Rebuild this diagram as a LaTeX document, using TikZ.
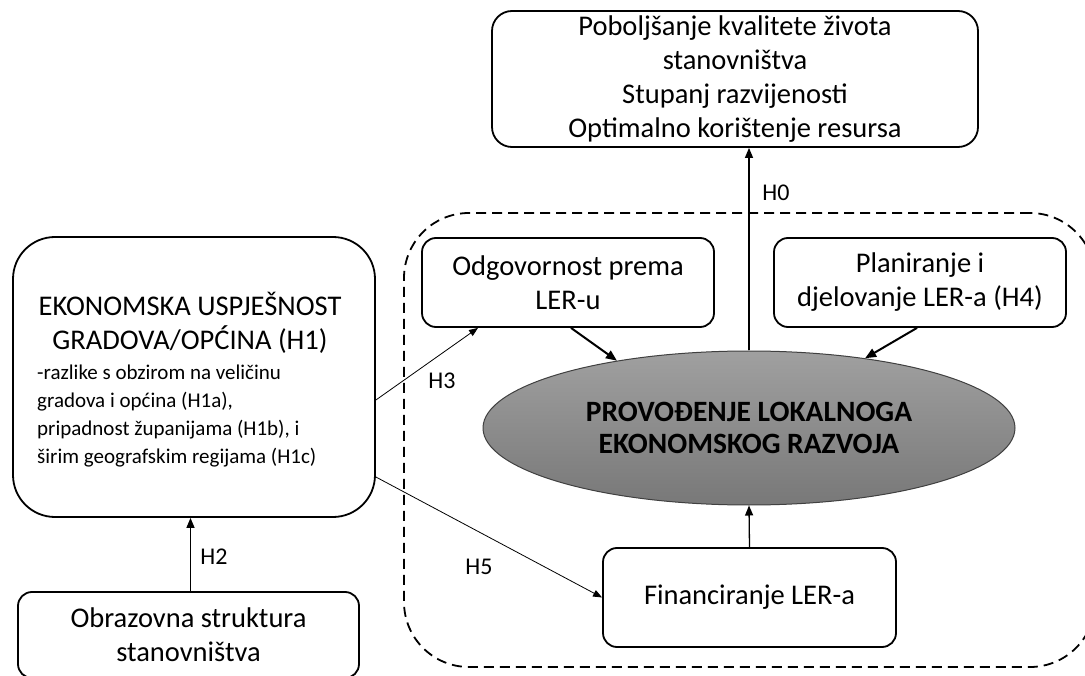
\documentclass[tikz,border=0pt]{standalone}
\usepackage{fontspec}
\setmainfont{Carlito}
\usetikzlibrary{shapes.geometric,arrows.meta}
\definecolor{elltop}{HTML}{A0A0A0}
\definecolor{ellbot}{HTML}{787878}
\tikzset{
  box/.style={draw, line width=1.8pt, rounded corners=14pt, align=center, inner sep=0pt},
  big/.style={font=\fontsize{28.5}{34}\selectfont},
  small/.style={font=\fontsize{21}{28}\selectfont},
  region/.style={draw, line width=1.8pt, dash pattern=on 10pt off 6pt, rounded corners=65pt, inner sep=0pt},
  arr/.style={-{Triangle[length=10pt,width=8pt]}, line width=1.3pt},
  arrthick/.style={-{Triangle[length=11pt,width=9pt]}, line width=2pt},
  arrthin/.style={-{Triangle[length=9pt,width=7pt]}, line width=0.8pt},
  hlbl/.style={font=\fontsize{24}{28}\selectfont, inner sep=0pt},
}
\begin{document}
\begin{tikzpicture}[x=1pt,y=-1pt]
\useasboundingbox (0,0) rectangle (1085,676);
\clip (0,0) rectangle (1085,676);
\fill[white] (0,0) rectangle (1085,676);
% dashed region
\node[region, minimum width=691pt, minimum height=454pt] (reg) at (749.5,440) {};
% boxes
\node[box, big, rounded corners=20pt, minimum width=486pt, minimum height=136pt] (res) at (735,79)
  {Poboljšanje kvalitete života\\stanovništva\\Stupanj razvijenosti\\Optimalno korištenje resursa};
\node[box, big, minimum width=292pt, minimum height=89pt] (odg) at (568,282.5)
  {Odgovornost prema\\LER-u};
\node[box, big, minimum width=292pt, minimum height=89pt] (plan) at (920,282.5)
  {Planiranje i\\djelovanje LER-a (H4)};
\node[ellipse, draw=black!75, line width=1pt, top color=elltop, bottom color=ellbot,
  minimum width=532pt, minimum height=154pt, inner sep=0pt, align=center,
  font=\fontsize{29.5}{32.5}\selectfont\bfseries] (ell) at (749,428)
  {PROVOĐENJE LOKALNOGA\\EKONOMSKOG RAZVOJA};
\node[box, big, minimum width=293pt, minimum height=99pt] (fin) at (749.5,597.5)
  {Financiranje LER-a};
\node[box, rounded corners=42pt, minimum width=362pt, minimum height=280pt] (eko) at (194,377) {};
\node[big, align=center, inner sep=0pt] (ekot) at (190,323)
  {EKONOMSKA USPJEŠNOST\\GRADOVA/OPĆINA (H1)};
\node[small, align=left, inner sep=0pt, anchor=west] (ekob) at (37,416)
  {-razlike s obzirom na veličinu\\gradova i općina (H1a),\\pripadnost županijama (H1b), i\\širim geografskim regijama (H1c)};
\node[box, big, minimum width=341pt, minimum height=86pt] (obr) at (188.5,635)
  {Obrazovna struktura\\stanovništva};
% connectors
\draw[arr] (ell.north) -- (ell.north |- res.south);
\draw[arrthick] ([xshift=3pt]odg.south) -- (ell.153);
\draw[arrthick] ([xshift=-3pt]plan.south) -- (ell.31);
\draw[arr] (fin.north) -- (ell.south);
\draw[arr] ([xshift=2pt]obr.north) -- ([xshift=2pt]obr.north |- eko.south);
\draw[arrthin] ([yshift=-23pt]eko.east) -- ([xshift=-90pt]odg.south);
\draw[arrthin] ([yshift=-100pt]eko.east) -- (fin.west);
% labels
\node[hlbl] (h0) at (776,193) {H0};
\node[hlbl] (h3) at (442,381) {H3};
\node[hlbl] (h5) at (479,567) {H5};
\node[hlbl] (h2) at (214,557) {H2};
\end{tikzpicture}
\end{document}
